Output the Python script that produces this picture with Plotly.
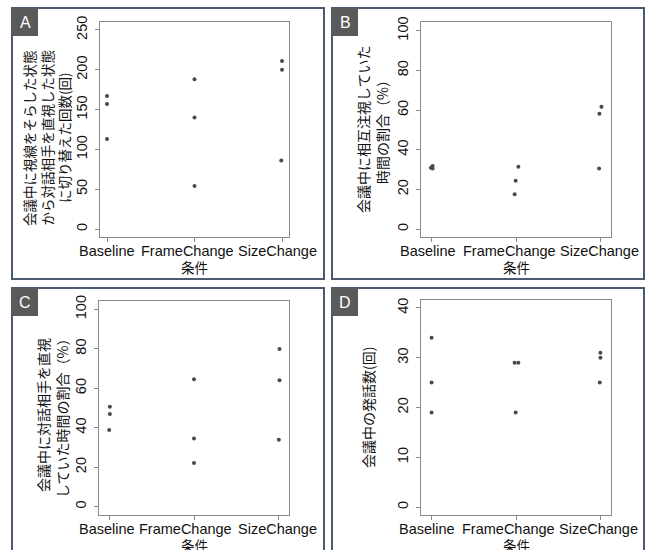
import plotly.graph_objects as go

W, H = 647, 550

categories = ["Baseline", "FrameChange", "SizeChange"]
x_title = "条件"

a_baseline = [167, 157, 113]
a_framechange = [188, 140, 54]
a_sizechange = [211, 200, 86]

b_baseline = [31.8, 30.9, 30.5]
b_framechange = [31.4, 24.3, 17.6]
b_sizechange = [61.7, 58.1, 30.5]

c_baseline = [50.6, 47.0, 38.8]
c_framechange = [64.6, 34.6, 22.1]
c_sizechange = [79.9, 64.1, 33.9]

d_baseline = [34, 25, 19]
d_framechange = [29, 29, 19]
d_sizechange = [31, 30, 25]

# small horizontal jitter (as in the original strip chart)
jit_a = [[0, 0, 0], [0, 0, 0], [0, 0, -0.008]]
jit_b = [[0.012, -0.008, 0.012], [0.028, -0.004, -0.016], [0.012, -0.012, -0.016]]
jit_c = [[0.008, 0.008, 0], [0, 0, 0], [0.008, 0.008, 0]]
jit_d = [[0, 0, 0], [-0.016, 0.028, -0.004], [0, 0, -0.008]]

a_ticks = [0, 50, 100, 150, 200, 250]
b_ticks = [0, 20, 40, 60, 80, 100]
c_ticks = [0, 20, 40, 60, 80, 100]
d_ticks = [0, 10, 20, 30, 40]

a_ylabel = ["会議中に視線をそらした状態", "から対話相手を直視した状態", "に切り替えた回数(回)"]
b_ylabel = ["会議中に相互注視していた", "時間の割合（%）"]
c_ylabel = ["会議中に対話相手を直視", "していた時間の割合（%）"]
d_ylabel = ["会議中の発話数(回)"]

panel_labels = ["A", "B", "C", "D"]


def px(x):
    return x / W


def py(y):
    return 1 - y / H


LATIN = "Liberation Sans, Arial, sans-serif"
CJK = "Noto Sans CJK JP, sans-serif"
BOX = "#8a8a8a"

panels = [
    dict(vals=[a_baseline, a_framechange, a_sizechange], jit=jit_a, ticks=a_ticks,
         yr=[-10, 260], xr=[0.92, 3.08], dom_x=(100, 289), dom_y=(22, 237),
         xlab_shift=[0, -7, -5], xlab_y=250.7,
         ylab=a_ylabel, ylab_x=[29, 46.5, 64], ylab_y=138, ylab_size=13.5,
         border=(12, 8, 324, 279), lab_box=(12, 8, 38, 36)),
    dict(vals=[b_baseline, b_framechange, b_sizechange], jit=jit_b, ticks=b_ticks,
         yr=[-4, 104.4], xr=[0.875, 3.125], dom_x=(421, 611), dom_y=(22, 237),
         xlab_shift=[-4, -7, -1], xlab_y=250.7,
         ylab=b_ylabel, ylab_x=[363, 382], ylab_y=129, ylab_size=14,
         border=(332, 8, 644, 279), lab_box=(332, 8, 358, 36)),
    dict(vals=[c_baseline, c_framechange, c_sizechange], jit=jit_c, ticks=c_ticks,
         yr=[-4.2, 104.2], xr=[0.88, 3.12], dom_x=(99, 289), dom_y=(301, 515),
         xlab_shift=[-2, -8.5, -1], xlab_y=528.5,
         ylab=c_ylabel, ylab_x=[43, 62], ylab_y=415, ylab_size=14,
         border=(12, 288, 324, 560), lab_box=(12, 288, 38, 316)),
    dict(vals=[d_baseline, d_framechange, d_sizechange], jit=jit_d, ticks=d_ticks,
         yr=[-1.6, 41.6], xr=[0.875, 3.125], dom_x=(421, 611), dom_y=(300, 515),
         xlab_shift=[-4.5, -8, -1.5], xlab_y=528.5,
         ylab=d_ylabel, ylab_x=[368], ylab_y=408, ylab_size=14,
         border=(332, 288, 644, 560), lab_box=(332, 288, 358, 316)),
]

fig = go.Figure()
shapes = []
annotations = []
layout = {}

for i, p in enumerate(panels):
    n = i + 1
    xa = "x" if n == 1 else f"x{n}"
    ya = "y" if n == 1 else f"y{n}"
    xs, ys = [], []
    for ci, (grp, jg) in enumerate(zip(p["vals"], p["jit"])):
        for v, j in zip(grp, jg):
            xs.append(ci + 1 + j)
            ys.append(v)
    fig.add_trace(go.Scatter(x=xs, y=ys, mode="markers", xaxis=xa, yaxis=ya,
                             marker=dict(size=4, color="#4a4a4a"),
                             showlegend=False, hoverinfo="y", cliponaxis=False))
    x0, x1 = p["dom_x"]
    y0, y1 = p["dom_y"]
    layout["xaxis" if n == 1 else f"xaxis{n}"] = dict(
        domain=[px(x0), px(x1)], range=p["xr"], anchor=ya,
        tickvals=[1, 2, 3], showticklabels=False, automargin=False,
        showline=True, mirror=True, linecolor=BOX, linewidth=1,
        ticks="outside", ticklen=4, tickcolor=BOX, tickwidth=1,
        showgrid=False, zeroline=False, fixedrange=True)
    layout["yaxis" if n == 1 else f"yaxis{n}"] = dict(
        domain=[py(y1), py(y0)], range=p["yr"], anchor=xa,
        tickvals=p["ticks"], ticktext=[str(t) for t in p["ticks"]],
        tickangle=-90, automargin=False, ticklabelstandoff=2,
        showline=True, mirror=True, linecolor=BOX, linewidth=1,
        ticks="outside", ticklen=4, tickcolor=BOX, tickwidth=1,
        showgrid=False, zeroline=False, fixedrange=True,
        tickfont=dict(family=LATIN, size=14.5, color="#111"))
    # category labels under the ticks (placed through the x axis scale)
    for ci, (cat, sh) in enumerate(zip(categories, p["xlab_shift"])):
        annotations.append(dict(text=cat, xref=xa, yref="paper",
                                x=ci + 1, xshift=sh, y=py(p["xlab_y"]),
                                showarrow=False, xanchor="center", yanchor="middle",
                                font=dict(family=LATIN, size=14.5, color="#111")))
    # panel border
    bx0, by0, bx1, by1 = p["border"]
    shapes.append(dict(type="rect", xref="paper", yref="paper",
                       x0=px(bx0), x1=px(bx1), y0=py(by1), y1=py(by0),
                       line=dict(color="#4b5a70", width=2)))
    # label box
    lx0, ly0, lx1, ly1 = p["lab_box"]
    shapes.append(dict(type="rect", xref="paper", yref="paper",
                       x0=px(lx0), x1=px(lx1), y0=py(ly1), y1=py(ly0),
                       fillcolor="#5a5a5a", line=dict(width=0)))
    annotations.append(dict(text=panel_labels[i], xref="paper", yref="paper",
                            x=px((lx0 + lx1) / 2 + 0.5), y=py((ly0 + ly1) / 2),
                            showarrow=False, xanchor="center", yanchor="middle",
                            font=dict(family=LATIN, size=16, color="white")))
    # y title, one annotation per line
    for line, lx in zip(p["ylab"], p["ylab_x"]):
        annotations.append(dict(text=line, xref="paper", yref="paper",
                                x=px(lx), y=py(p["ylab_y"]), textangle=-90,
                                showarrow=False, xanchor="center", yanchor="middle",
                                font=dict(family=CJK, size=p["ylab_size"], color="#111")))
    # x title
    annotations.append(dict(text=x_title, xref="paper", yref="paper",
                            x=px((x0 + x1) / 2), y=py(p["xlab_y"] + 16),
                            showarrow=False, xanchor="center", yanchor="middle",
                            font=dict(family=CJK, size=13.5, color="#111")))

fig.update_layout(template="none", width=W, height=H,
                  margin=dict(l=0, r=0, t=0, b=0, autoexpand=False),
                  paper_bgcolor="white", plot_bgcolor="white",
                  shapes=shapes, annotations=annotations, **layout)

fig.write_html("out.html", config={"displayModeBar": False},
               post_script="document.body.style.margin='0px';document.body.style.overflow='hidden';")
